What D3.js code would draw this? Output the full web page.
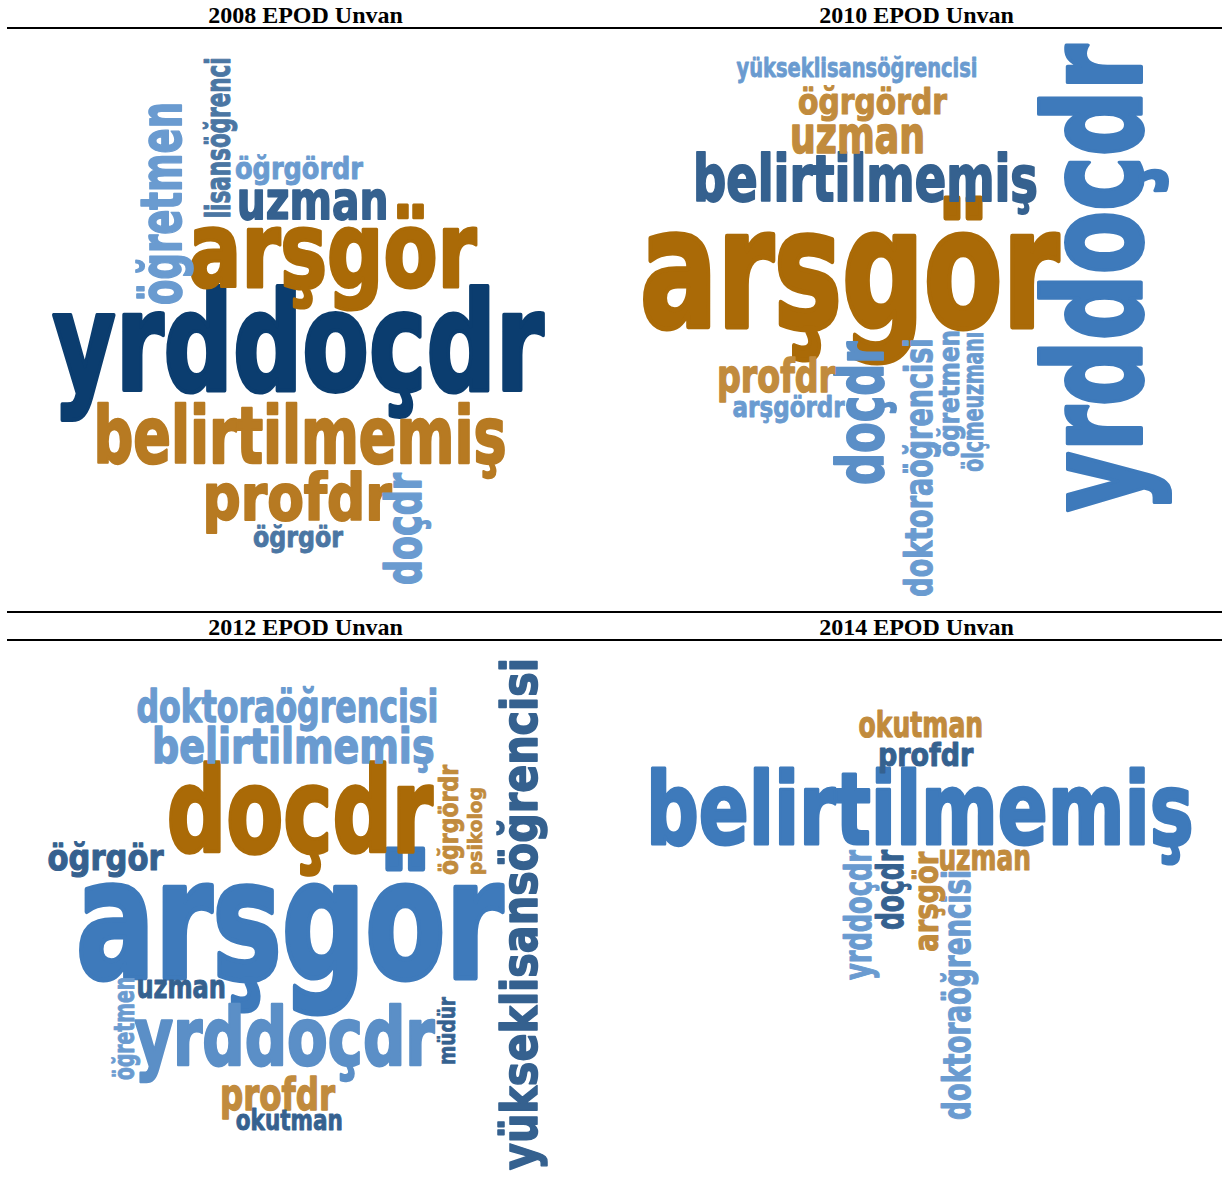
<!DOCTYPE html>
<html>
<head>
<meta charset="utf-8">
<script src="https://cdn.jsdelivr.net/npm/d3@7"></script>
<style>
  body { margin: 0; background: #fff; }
  .word { font-family: 'DejaVu Sans Condensed', 'DejaVu Sans', sans-serif; font-weight: bold; stroke-linejoin: round; }
  .title { font-family: 'Liberation Serif', 'Times New Roman', serif; font-weight: bold; font-size: 24px; }
</style>
</head>
<body>
<svg width="1222" height="1184"></svg>
<script>
////////////////////////////// DATA //////////////////////////////

var titles = ["2008 EPOD Unvan", "2010 EPOD Unvan", "2012 EPOD Unvan", "2014 EPOD Unvan"];

// 2008
var words2008  = ["yrddoçdr", "arşgör", "belirtilmemiş", "profdr", "uzman", "öğretmen", "doçdr", "lisansöğrenci", "öğrgördr", "öğrgör"];
var weight2008 = [85, 65, 48, 40, 33, 35, 31, 21, 19, 18];
var tone2008   = ["navy", "rust", "ochre", "ochre", "steel", "sky", "sky", "slate", "sky", "slate"];
// layout result of the cloud: [x, y, vertical, length]
var place2008  = [[52.6, 390, 0, 491], [188.3, 286.7, 0, 288], [93.5, 462.7, 0, 413], [202.6, 520, 0, 189],
                  [236.7, 219.3, 0, 151.7], [181, 305, 1, 203], [421, 585, 1, 112], [230, 218.3, 1, 161],
                  [235, 178.5, 0, 128], [253, 546.7, 0, 90]];

// 2010
var words2010  = ["arşgör", "yrddoçdr", "belirtilmemiş", "doçdr", "uzman", "profdr", "doktoraöğrencisi", "öğrgördr", "öğretmen", "arşgördr", "ölçmeuzmanı", "yükseklisansöğrencisi"];
var weight2010 = [102, 82, 40, 40, 32, 28, 23.5, 22, 18, 18, 17, 16];
var tone2010   = ["rust", "blue", "steel", "mid", "sand", "sand", "sky", "sand", "sky", "sky", "sky", "sky"];
var place2010  = [[29, 326.7, 0, 419], [530, 511.7, 1, 467], [82, 200.7, 0, 345], [272.3, 485, 1, 143.3],
                  [179, 152.7, 0, 135], [106, 392, 0, 118], [320.7, 596.7, 1, 258.3], [187, 114, 0, 149],
                  [348.3, 456.7, 1, 126.7], [121.6, 416.7, 0, 112], [372.3, 471.7, 1, 140], [125.5, 77.3, 0, 241]];

// 2012
var words2012  = ["arşgör", "doçdr", "yrddoçdr", "yükseklisansöğrencisi", "belirtilmemiş", "doktoraöğrencisi", "profdr", "öğrgör", "uzman", "öğretmen", "okutman", "öğrgördr", "müdür", "psikolog"];
var weight2012 = [102, 73, 50, 31, 30, 27, 27, 22, 19.5, 17, 17, 16.5, 14, 12.5];
var tone2012   = ["blue", "rust", "mid", "steel", "sky", "sky", "sand", "steel", "steel", "sky", "steel", "sand", "steel", "sand"];
var place2012  = [[76, 366.3, 0, 427], [166.8, 239.7, 0, 266], [134.5, 453, 0, 300], [537, 558, 1, 512],
                  [152, 151.3, 0, 282.5], [136.4, 110.3, 0, 302], [220, 498, 0, 115], [47.5, 258, 0, 116],
                  [136.4, 386.3, 0, 89.6], [134, 468, 1, 103], [235.8, 518, 0, 107], [458.3, 263, 1, 110],
                  [455, 453, 1, 68], [481.7, 263, 1, 88]];

// 2014
var words2014  = ["belirtilmemiş", "doktoraöğrencisi", "yrddoçdr", "doçdr", "okutman", "uzman", "arşgör", "profdr"];
var weight2014 = [62, 23.5, 23, 23, 22, 22, 21, 20];
var tone2014   = ["blue", "sky", "sky", "steel", "sand", "sand", "sand", "steel"];
var place2014  = [[35, 232.3, 0, 547.6], [359.3, 508, 1, 250], [260.3, 368, 1, 130], [291.5, 318, 1, 80],
                  [247.5, 124.7, 0, 124.7], [327.4, 258, 0, 92.6], [326.6, 339.7, 1, 100], [267, 154, 0, 95.4]];

////////////////////////////// SETUP //////////////////////////////

var svg = d3.select("svg"),
    width = +svg.attr("width");

var toneNames  = ["navy", "steel", "slate", "blue", "mid", "sky", "rust", "ochre", "sand"];
var toneColors = ["#0b3d6f", "#35618f", "#4b76a3", "#3e7abb", "#5b8fc7", "#6a9bd0", "#aa6a07", "#b77a22", "#c18b3d"];
var color = d3.scaleOrdinal().domain(toneNames).range(toneColors);

// font size per pixel of x-height (substitute font is shorter than Impact)
var fontSize = d3.scaleLinear().domain([0, 100]).range([0, 162]);

var panelW = 611, panelH = 572;

////////////////////////////// DRAW //////////////////////////////

drawCloud = function(words, weight, tone, place, ox, oy) {
    var x = d3.scaleLinear().domain([0, panelW]).range([ox, ox + panelW]);
    var y = d3.scaleLinear().domain([0, panelH]).range([oy, oy + panelH]);
    var g = svg.append("g").attr("class", "cloud");

    g.selectAll("text")
        .data(words).enter().append("text")
        .attr("class", "word")
        .attr("transform", function(d, i) {
            var p = place[i];
            return "translate(" + x(p[0]) + "," + y(p[1]) + ")" + (p[2] ? " rotate(-90)" : "");
        })
        .attr("font-size", function(d, i) { return fontSize(weight[i]); })
        .attr("textLength", function(d, i) { return x(place[i][3]) - x(0); })
        .attr("lengthAdjust", "spacingAndGlyphs")
        .attr("fill", function(d, i) { return color(tone[i]); })
        // thicken the strokes a little, Impact is heavier than the substitute
        .attr("stroke", function(d, i) { return color(tone[i]); })
        .attr("stroke-width", function(d, i) { return fontSize(weight[i]) * 0.03; })
        .text(function(d) { return d; });
}

// titles and rules
var titleX = d3.scaleBand().domain([0, 1]).range([0, width]);
var titleY = [23, 635];
titles.forEach(function(t, i) {
    svg.append("text").attr("class", "title")
        .attr("x", titleX(i % 2) + titleX.bandwidth() / 2)
        .attr("y", titleY[Math.floor(i / 2)])
        .attr("text-anchor", "middle")
        .text(t);
});

[28, 612, 640].forEach(function(ly) {
    svg.append("line")
        .attr("x1", 7).attr("x2", width)
        .attr("y1", ly).attr("y2", ly)
        .attr("stroke", "#000").attr("stroke-width", 2);
});

drawCloud(words2008, weight2008, tone2008, place2008, 0, 0);
drawCloud(words2010, weight2010, tone2010, place2010, 611, 0);
drawCloud(words2012, weight2012, tone2012, place2012, 0, 612);
drawCloud(words2014, weight2014, tone2014, place2014, 611, 612);
</script>
</body>
</html>
